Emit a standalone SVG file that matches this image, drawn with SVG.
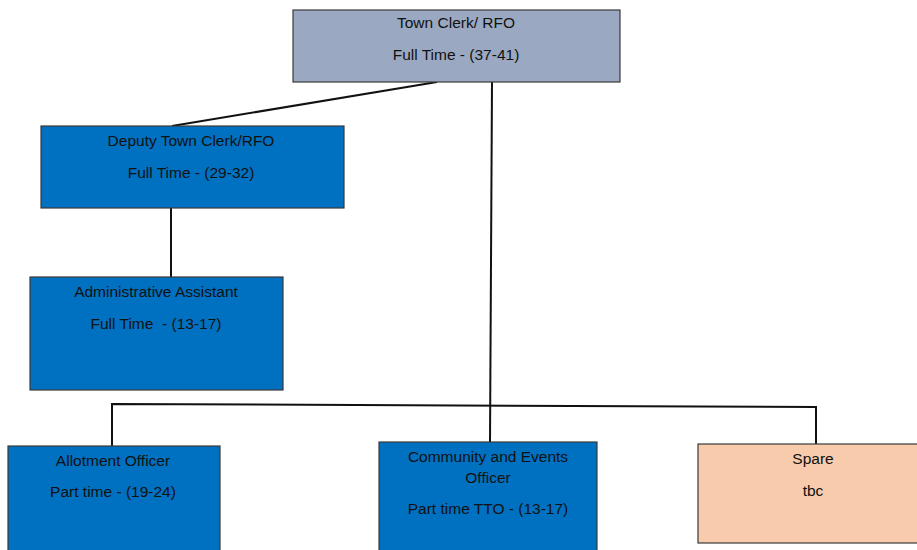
<svg xmlns="http://www.w3.org/2000/svg" width="917" height="550" viewBox="0 0 917 550">
<style>
.box{stroke:#3a3a3a;stroke-width:1.2}
.blue{fill:#0070c0}
.grey{fill:#9aa9c1}
.peach{fill:#f8cbad}
text{font-family:"Liberation Sans",Arial,sans-serif;font-size:15.5px;fill:#111;text-anchor:middle}
.c{font-size:15.5px}
.conn{stroke:#111;stroke-width:2;fill:none}
</style>
<rect width="917" height="550" fill="#fff"/>
<g id="connectors">
<line class="conn" x1="437" y1="82" x2="172" y2="126"/>
<line class="conn" x1="492" y1="82" x2="490" y2="442"/>
<line class="conn" x1="171" y1="208" x2="171" y2="277" stroke="#444"/>
<polyline class="conn" points="112,446 112,404 816,407 816,444"/>
</g>
<g id="town-clerk">
<rect class="box grey" x="293" y="10" width="327" height="72"/>
<text x="456" y="28">Town Clerk/ RFO</text>
<text x="456" y="60">Full Time - (37-41)</text>
</g>
<g id="deputy">
<rect class="box blue" x="41" y="126" width="303" height="82"/>
<text x="191" y="146">Deputy Town Clerk/RFO</text>
<text x="191" y="178">Full Time - (29-32)</text>
</g>
<g id="admin">
<rect class="box blue" x="30" y="277" width="253" height="113"/>
<text x="156" y="297">Administrative Assistant</text>
<text x="156" y="329" xml:space="preserve">Full Time  - (13-17)</text>
</g>
<g id="allotment">
<rect class="box blue" x="8" y="446" width="212" height="110"/>
<text class="c" x="113" y="466">Allotment Officer</text>
<text class="c" x="113" y="497">Part time - (19-24)</text>
</g>
<g id="community">
<rect class="box blue" x="379" y="442" width="218" height="114"/>
<text class="c" x="488" y="462">Community and Events</text>
<text class="c" x="488" y="483">Officer</text>
<text class="c" x="488" y="514">Part time TTO - (13-17)</text>
</g>
<g id="spare">
<rect class="box peach" x="698" y="444" width="225" height="99"/>
<text class="c" x="813" y="464">Spare</text>
<text class="c" x="813" y="496">tbc</text>
</g>
</svg>
